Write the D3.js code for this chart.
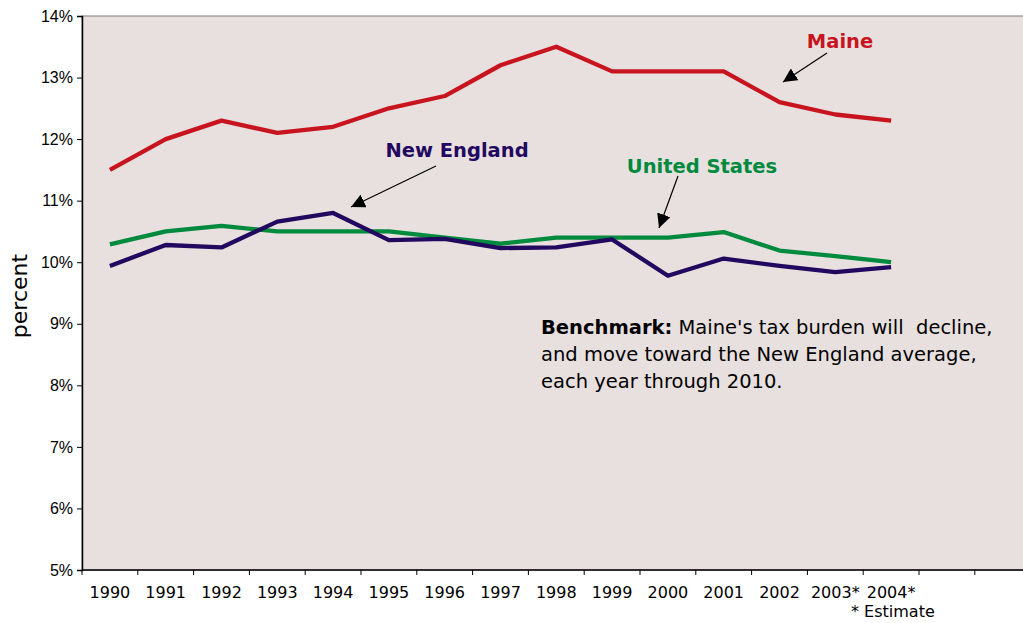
<!DOCTYPE html>
<html lang="en">
<head>
<meta charset="UTF-8">
<script src="https://d3js.org/d3.v7.min.js"></script>
<style>
body { margin: 0; background: #fff; }
svg { display: block; font-family: "DejaVu Sans", Verdana, sans-serif; }
.tick text { font-size: 16px; fill: #000; }
.series-label { font-size: 19.5px; font-weight: bold; }
</style>
</head>
<body>
<svg width="1023" height="623"></svg>
<script>
// categories (last two slots are empty on the original axis)
const years = ["1990","1991","1992","1993","1994","1995","1996","1997","1998","1999","2000","2001","2002","2003*","2004*","",""];
const maine = [11.5, 12.0, 12.3, 12.1, 12.2, 12.5, 12.7, 13.2, 13.5, 13.1, 13.1, 13.1, 12.6, 12.4, 12.3];
const newEngland = [9.94, 10.28, 10.24, 10.66, 10.80, 10.36, 10.38, 10.23, 10.24, 10.37, 9.78, 10.06, 9.94, 9.84, 9.92];
const unitedStates = [10.29, 10.50, 10.59, 10.50, 10.50, 10.50, 10.40, 10.30, 10.40, 10.40, 10.40, 10.49, 10.19, 10.10, 10.00];
const yTicks = [5, 6, 7, 8, 9, 10, 11, 12, 13, 14];

const svg = d3.select("svg");
const mLeft = 82, mTop = 16, mBottom = 570, mRight = 82 + 17 * 55.8;

const x = d3.scaleBand().domain(d3.range(years.length)).range([mLeft, mRight]);
const y = d3.scaleLinear().domain([5, 14]).range([mBottom, mTop]);

// plot background
svg.append("rect")
  .attr("x", mLeft).attr("y", mTop)
  .attr("width", mRight - mLeft).attr("height", mBottom - mTop)
  .attr("fill", "#e8e0df")
  .attr("stroke", "#808080").attr("stroke-width", 1);

// y axis
const yAxis = svg.append("g")
  .attr("transform", `translate(${mLeft},0)`)
  .call(d3.axisLeft(y).tickValues(yTicks).tickFormat(d => d + "%").tickSize(5).tickPadding(4));
yAxis.select(".domain").attr("stroke", "#000").attr("stroke-width", 1.5);

// x axis (ticks at category boundaries)
const xAxis = svg.append("g").attr("transform", `translate(0,${mBottom})`);
xAxis.append("line").attr("x1", mLeft).attr("x2", mRight).attr("stroke", "#000").attr("stroke-width", 1.5);
xAxis.selectAll(".xt").data(d3.range(years.length + 1)).join("line")
  .attr("x1", i => mLeft + i * x.step()).attr("x2", i => mLeft + i * x.step())
  .attr("y1", 0).attr("y2", 5).attr("stroke", "#000");
xAxis.selectAll(".xl").data(years).join("text")
  .attr("x", (d, i) => x(i) + x.bandwidth() / 2)
  .attr("y", 28)
  .attr("text-anchor", "middle")
  .attr("font-size", 16)
  .text(d => d);

svg.append("text")
  .attr("x", 851).attr("y", 617)
  .attr("font-size", 16)
  .text("* Estimate");

svg.append("text")
  .attr("transform", "translate(27,296) rotate(-90)")
  .attr("text-anchor", "middle")
  .attr("font-size", 22)
  .text("percent");

// lines
const line = d3.line().x((d, i) => x(i) + x.bandwidth() / 2).y(d => y(d));
const series = [
  { values: unitedStates, color: "#008a3e" },
  { values: newEngland, color: "#22085e" },
  { values: maine, color: "#c8141e" }
];
svg.selectAll(".series").data(series).join("path")
  .attr("fill", "none")
  .attr("stroke", d => d.color)
  .attr("stroke-width", 4.3)
  .attr("stroke-linejoin", "round")
  .attr("d", d => line(d.values));

// annotations
svg.append("defs").append("marker")
  .attr("id", "arrow").attr("viewBox", "0 0 10 10")
  .attr("refX", 10).attr("refY", 5)
  .attr("markerWidth", 14).attr("markerHeight", 14)
  .attr("markerUnits", "userSpaceOnUse")
  .attr("orient", "auto")
  .append("path").attr("d", "M0,0L10,5L0,10z").attr("fill", "#000");

const notes = [
  { text: "Maine", color: "#c8141e", tx: 840, ty: 48, x1: 827, y1: 53, x2: 783, y2: 82 },
  { text: "New England", color: "#22085e", tx: 457, ty: 157, x1: 436, y1: 166, x2: 351, y2: 207 },
  { text: "United States", color: "#008a3e", tx: 702, ty: 173, x1: 678, y1: 176, x2: 659, y2: 228 }
];
notes.forEach(n => {
  svg.append("text").attr("class", "series-label")
    .attr("x", n.tx).attr("y", n.ty).attr("text-anchor", "middle")
    .attr("fill", n.color).text(n.text);
  svg.append("line")
    .attr("x1", n.x1).attr("y1", n.y1).attr("x2", n.x2).attr("y2", n.y2)
    .attr("stroke", "#000").attr("stroke-width", 1.2)
    .attr("marker-end", "url(#arrow)");
});

const bench = svg.append("text").attr("x", 541).attr("y", 334).attr("font-size", 19.5);
bench.append("tspan").attr("font-weight", "bold").text("Benchmark:");
bench.append("tspan").attr("xml:space", "preserve").text(" Maine's tax burden will  decline,");
svg.append("text").attr("x", 541).attr("y", 361).attr("font-size", 19.5).text("and move toward the New England average,");
svg.append("text").attr("x", 541).attr("y", 388).attr("font-size", 19.5).text("each year through 2010.");
</script>
</body>
</html>
